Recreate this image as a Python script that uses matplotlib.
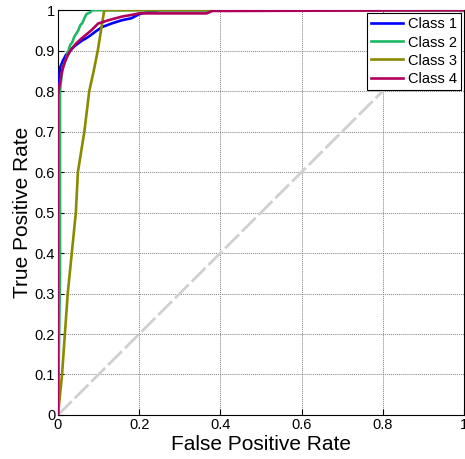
import matplotlib.pyplot as plt

plt.rcParams['font.family'] = ['Liberation Sans', 'DejaVu Sans']

# curvas ROC (FPR, TPR)
fpr_c1 = [0, 0, 0.003, 0.006, 0.012, 0.02, 0.03, 0.042, 0.058, 0.075, 0.091, 0.108, 0.132, 0.157, 0.181, 0.2, 0.22, 0.25, 1]
tpr_c1 = [0, 0.8, 0.84, 0.86, 0.875, 0.89, 0.9, 0.912, 0.924, 0.934, 0.946, 0.958, 0.967, 0.975, 0.98, 0.99, 0.995, 1.0, 1]

fpr_c2 = [0, 0.005, 0.005, 0.008, 0.012, 0.02, 0.025, 0.03, 0.035, 0.04, 0.05, 0.055, 0.06, 0.065, 0.07, 0.08, 0.085, 1]
tpr_c2 = [0, 0.35, 0.8, 0.83, 0.86, 0.88, 0.897, 0.914, 0.92, 0.934, 0.95, 0.963, 0.968, 0.98, 0.99, 0.995, 1.0, 1]

fpr_c3 = [0, 0.005, 0.01, 0.017, 0.024, 0.034, 0.044, 0.049, 0.057, 0.065, 0.077, 0.088, 0.098, 0.106, 0.114, 1]
tpr_c3 = [0, 0.05, 0.1, 0.2, 0.3, 0.4, 0.5, 0.6, 0.65, 0.7, 0.8, 0.85, 0.9, 0.95, 1.0, 1]

fpr_c4 = [0, 0, 0.003, 0.01, 0.018, 0.025, 0.034, 0.045, 0.058, 0.07, 0.083, 0.099, 0.124, 0.157, 0.18, 0.2, 0.366, 0.38, 0.42, 1]
tpr_c4 = [0, 0.79, 0.81, 0.85, 0.875, 0.89, 0.905, 0.918, 0.93, 0.94, 0.951, 0.967, 0.975, 0.984, 0.988, 0.992, 0.992, 0.998, 0.998, 1]

classes = ['Class 1', 'Class 2', 'Class 3', 'Class 4']
cores = ['#0000ff', '#1db866', '#8a8a00', '#b0005c']

fig = plt.figure(figsize=(4.65, 4.59), dpi=100)
ax = fig.add_axes([0.1247, 0.0959, 0.873, 0.882])

# diagonal de referencia
ax.plot([0, 1], [0, 1], color='#d0d0d0', linestyle=(0, (7, 1.5)), linewidth=2, zorder=2)

curvas = [(fpr_c1, tpr_c1), (fpr_c2, tpr_c2), (fpr_c3, tpr_c3), (fpr_c4, tpr_c4)]
for (x, y), cor, nome in zip(curvas, cores, classes):
    ax.plot(x, y, color=cor, linewidth=1.9, label=nome, zorder=3)

ax.set_xlim(0, 1)
ax.set_ylim(0, 1)
ax.set_xticks([0, 0.2, 0.4, 0.6, 0.8, 1])
ax.set_xticklabels(['0', '0.2', '0.4', '0.6', '0.8', '1'])
ax.set_yticks([i / 10 for i in range(11)])
ax.set_yticklabels(['0', '0.1', '0.2', '0.3', '0.4', '0.5', '0.6', '0.7', '0.8', '0.9', '1'])
ax.tick_params(direction='in', length=4, labelsize=10.5, pad=2)

ax.grid(True, color='#808080', linestyle=(0, (1, 1)), linewidth=0.7)
ax.set_axisbelow(True)
for s in ax.spines.values():
    s.set_linewidth(0.8)

ax.set_xlabel('False Positive Rate', fontsize=15, labelpad=2)
ax.set_ylabel('True Positive Rate', fontsize=15, labelpad=2)

leg = ax.legend(loc='upper right', fontsize=10.5, fancybox=False, framealpha=1,
                edgecolor='black', borderaxespad=0.2, handlelength=2.2,
                handletextpad=0.3, labelspacing=0.28, borderpad=0.3)
leg.get_frame().set_linewidth(0.8)

plt.savefig('out.png', dpi=100)
plt.close()
